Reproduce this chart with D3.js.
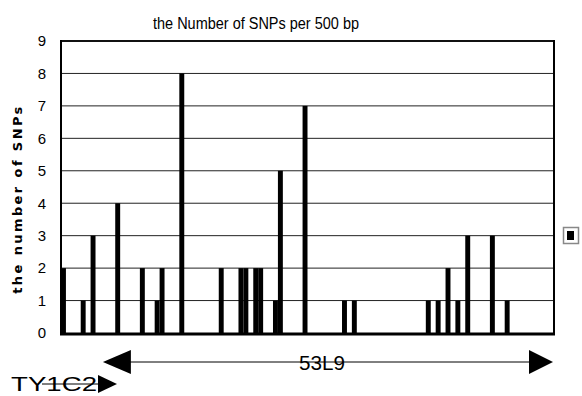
<!DOCTYPE html>
<html><head><meta charset="utf-8">
<script src="https://cdn.jsdelivr.net/npm/d3@7"></script>
<style>
html,body{margin:0;padding:0;background:#fff;}
svg{display:block;}
</style></head>
<body>
<svg id="chart" width="582" height="396"></svg>
<script>
// ---- data ----
const binCount = 100;                       // 500 bp bins
const binIndex = [0,4,6,11,16,19,20,24,32,36,37,39,40,43,44,49,57,59,74,76,78,80,82,87,90];
const snpCount = [2,1,3,4,2,1,2,8,2,2,2,2,2,1,5,7,1,1,1,1,2,1,3,3,1];
const yTicks = [0,1,2,3,4,5,6,7,8,9];
const titleText = "the Number of SNPs per 500 bp";
const yTitle = "the number of SNPs";
const cloneLabels = ["53L9","TY1C2"];

const svg = d3.select("#chart");
const L = 61, R = 554, T = 41, B = 333;

const bins = d3.range(binCount);
const x = d3.scaleBand().domain(bins).range([L, R]).paddingInner(0).paddingOuter(0);
const y = d3.scaleLinear().domain([0, 9]).range([B, T]);

// gridlines
svg.append("g").selectAll("line").data(yTicks.filter(d => d > 0 && d < 9)).join("line")
  .attr("x1", L).attr("x2", R).attr("y1", d => y(d)).attr("y2", d => y(d))
  .attr("stroke", "#222").attr("stroke-width", 1);

// bars
const data = binIndex.map((b, i) => ({bin: b, v: snpCount[i]}));
svg.append("g").selectAll("rect").data(data).join("rect")
  .attr("x", d => x(d.bin)).attr("width", x.bandwidth())
  .attr("y", d => y(d.v)).attr("height", d => y(0) - y(d.v))
  .attr("fill", "#000");

// frame
svg.append("line").attr("x1", L).attr("x2", R).attr("y1", T).attr("y2", T).attr("stroke", "#111").attr("stroke-width", 2);
svg.append("line").attr("x1", L).attr("x2", L).attr("y1", T - 1).attr("y2", B + 2).attr("stroke", "#000").attr("stroke-width", 2);
svg.append("line").attr("x1", R).attr("x2", R).attr("y1", T - 1).attr("y2", B + 2).attr("stroke", "#000").attr("stroke-width", 2);
svg.append("line").attr("x1", L - 1).attr("x2", R + 1).attr("y1", B + 1).attr("y2", B + 1).attr("stroke", "#000").attr("stroke-width", 3);

// y axis labels
const yAxis = d3.axisLeft(y).tickValues(yTicks).tickSize(0).tickPadding(0);
const ya = svg.append("g").attr("transform", `translate(${L - 15},0)`).call(yAxis);
ya.select(".domain").remove();
ya.selectAll("text").attr("font-family", "'Liberation Sans', Arial, sans-serif").attr("font-size", 15).attr("fill", "#000");

// title
svg.append("text").attr("x", 256).attr("y", 29).attr("text-anchor", "middle")
  .attr("font-family", "'Liberation Sans Narrow', 'Liberation Sans', Arial, sans-serif")
  .attr("font-size", 16).attr("textLength", 206).attr("lengthAdjust", "spacingAndGlyphs").text(titleText);

// y title
svg.append("text").attr("transform", "translate(22,199) rotate(-90)").attr("text-anchor", "middle")
  .attr("font-family", "'DejaVu Sans', Verdana, sans-serif").attr("font-weight", "bold")
  .attr("font-size", 13).attr("letter-spacing", 2.4).text(yTitle);

// legend
svg.append("rect").attr("x", 563.5).attr("y", 227.5).attr("width", 15).attr("height", 16)
  .attr("fill", "#fff").attr("stroke", "#888").attr("stroke-width", 1.5);
svg.append("rect").attr("x", 567).attr("y", 231).attr("width", 7).attr("height", 9).attr("fill", "#000");

// clone arrows
const ax = d3.scaleLinear().domain([0, binCount]).range([L, R]);
const a1y = 362;
const a1L = ax(8.5), a1R = ax(99.8);
svg.append("line").attr("x1", a1L + 20).attr("x2", a1R - 20).attr("y1", a1y).attr("y2", a1y).attr("stroke", "#000").attr("stroke-width", 1);
svg.append("path").attr("d", `M${a1L},${a1y} L${a1L + 28},${a1y - 12} L${a1L + 28},${a1y + 12} Z`).attr("fill", "#000");
svg.append("path").attr("d", `M${a1R},${a1y} L${a1R - 24},${a1y - 12} L${a1R - 24},${a1y + 12} Z`).attr("fill", "#000");
const midX = (a1L + a1R) / 2;
svg.append("text").attr("x", midX - 6).attr("y", a1y + 8).attr("text-anchor", "middle")
  .attr("font-family", "'Liberation Sans Narrow', 'Liberation Sans', Arial, sans-serif")
  .attr("font-size", 21).attr("textLength", 46).attr("lengthAdjust", "spacingAndGlyphs").text(cloneLabels[0]);

const a2y = 384;
svg.append("text").attr("x", 11).attr("y", 391)
  .attr("font-family", "'Liberation Sans Narrow', 'Liberation Sans', Arial, sans-serif")
  .attr("font-size", 21).attr("textLength", 86).attr("lengthAdjust", "spacingAndGlyphs").text(cloneLabels[1]);
svg.append("line").attr("x1", 42).attr("x2", 100).attr("y1", a2y).attr("y2", a2y).attr("stroke", "#000").attr("stroke-width", 1);
svg.append("path").attr("d", `M117,${a2y} L98,${a2y - 9} L98,${a2y + 9} Z`).attr("fill", "#000");
</script>
</body></html>
